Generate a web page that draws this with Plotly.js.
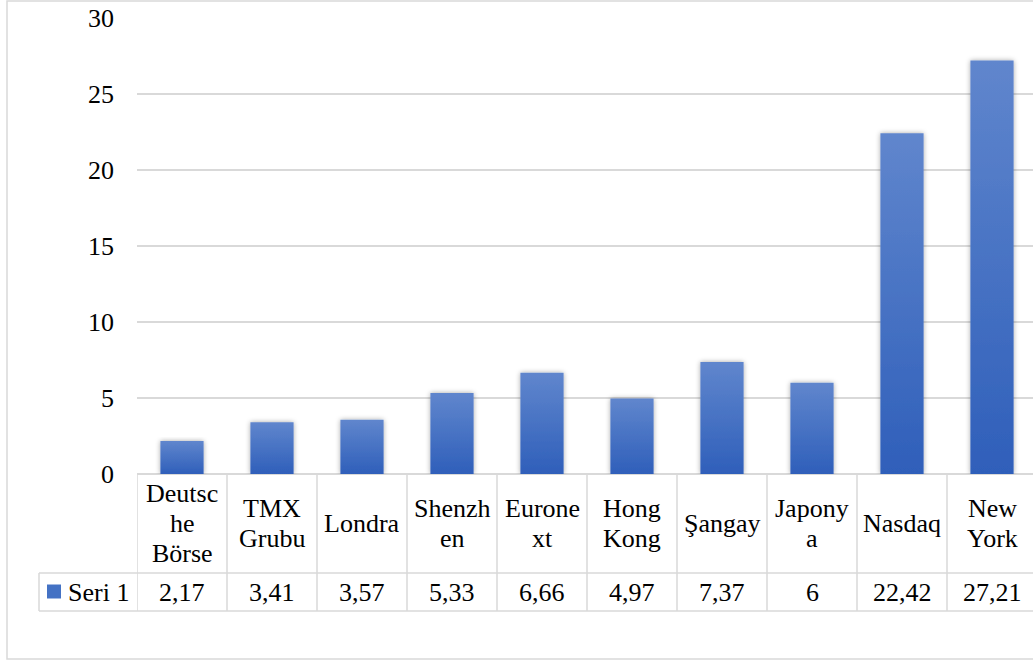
<!DOCTYPE html>
<html>
<head>
<meta charset="utf-8">
<script src="https://cdn.plot.ly/plotly-3.0.1.min.js"></script>
<style>
html,body{margin:0;padding:0;background:#fff;}
#chart{width:1033px;height:661px;}
</style>
</head>
<body>
<div id="chart"></div>
<script>
const categories = ['Deutsche Börse', 'TMX Grubu', 'Londra', 'Shenzhen', 'Euronext', 'Hong Kong', 'Şangay', 'Japonya', 'Nasdaq', 'New York'];
const tickLabels = ['Deutsc<br>he<br>Börse', 'TMX<br>Grubu', 'Londra', 'Shenzh<br>en', 'Eurone<br>xt', 'Hong<br>Kong', 'Şangay', 'Japony<br>a', 'Nasdaq', 'New<br>York'];
const values = [2.17, 3.41, 3.57, 5.33, 6.66, 4.97, 7.37, 6, 22.42, 27.21];
const seriesName = 'Seri 1';

const W = 1033, H = 661;
const mL = 137, mR = 0, mT = 18, mB = 187;
const plotW = W - mL - mR, plotH = H - mT - mB;
const colW = 90;
const px2x = px => (px - mL) / plotW;
const py2y = py => (H - mB - py) / plotH;

const FONT = 'Liberation Serif';
const FS = 26;
const LINE_H = 30;
const lineC = '#d9d9d9';
const barC = '#4472c4';

const headerTop = 474, rowMid = 573, rowBot = 611;

const shapes = [];
const annotations = [];

for (let k = 0; k <= categories.length; k++) {
  shapes.push({type:'line', xref:'x', yref:'paper', x0:k-0.5, x1:k-0.5,
    y0:py2y(headerTop), y1:py2y(rowBot), line:{color:lineC, width:1.5}});
}
shapes.push({type:'line', xref:'paper', yref:'paper', x0:px2x(39), x1:px2x(39),
  y0:py2y(rowMid), y1:py2y(rowBot), line:{color:lineC, width:1.5}});
shapes.push({type:'line', xref:'paper', yref:'paper', x0:px2x(39), x1:px2x(1040),
  y0:py2y(rowMid), y1:py2y(rowMid), line:{color:lineC, width:1.5}});
shapes.push({type:'line', xref:'paper', yref:'paper', x0:px2x(39), x1:px2x(1040),
  y0:py2y(rowBot), y1:py2y(rowBot), line:{color:lineC, width:1.5}});
shapes.push({type:'rect', xref:'paper', yref:'paper', x0:px2x(7), x1:px2x(1045),
  y0:py2y(1), y1:py2y(659), line:{color:lineC, width:1.5}, fillcolor:'rgba(0,0,0,0)', layer:'below'});
shapes.push({type:'rect', xref:'paper', yref:'paper', x0:px2x(47), x1:px2x(61),
  y0:py2y(584.5), y1:py2y(598.5), line:{width:0}, fillcolor:barC});

annotations.push({xref:'paper', yref:'paper', x:px2x(66), y:py2y(592), text:seriesName,
  showarrow:false, xanchor:'left', yanchor:'middle', font:{family:FONT, size:FS, color:'#000'}});

categories.forEach((c, i) => {
  const lines = tickLabels[i].split('<br>');
  const mid = (headerTop + rowMid) / 2;
  lines.forEach((ln, j) => {
    const cy = mid + (j - (lines.length - 1) / 2) * LINE_H;
    annotations.push({xref:'x', yref:'paper', x:c, y:py2y(cy), text:ln,
      showarrow:false, xanchor:'center', yanchor:'middle', align:'center',
      font:{family:FONT, size:FS, color:'#000'}});
  });
  annotations.push({xref:'x', yref:'paper', x:c, y:py2y((rowMid+rowBot)/2),
    text:String(values[i]).replace('.', ','),
    showarrow:false, xanchor:'center', yanchor:'middle',
    font:{family:FONT, size:FS, color:'#000'}});
});

const trace = {
  type:'bar', x:categories, y:values, name:seriesName,
  width:0.48, marker:{color:barC, line:{width:0}}, hoverinfo:'skip'
};

const layout = {
  width:W, height:H,
  margin:{l:mL, r:mR, t:mT, b:mB, pad:0},
  paper_bgcolor:'#fff', plot_bgcolor:'#fff',
  showlegend:false,
  font:{family:FONT},
  xaxis:{type:'category', range:[-0.5, -0.5 + plotW/colW], showticklabels:false,
    showgrid:false, zeroline:false, showline:false, ticks:''},
  yaxis:{range:[0,30], dtick:5, tick0:0, showgrid:true, gridcolor:lineC, gridwidth:1.5,
    zeroline:true, zerolinecolor:lineC, zerolinewidth:1.5, showline:false, ticks:'',
    ticklabelstandoff:22, tickfont:{family:FONT, size:FS, color:'#000'}},
  shapes:shapes, annotations:annotations
};

Plotly.newPlot('chart', [trace], layout, {displayModeBar:false, staticPlot:true}).then(gd => {
  const svg = gd.querySelector('svg.main-svg');
  const ns = 'http://www.w3.org/2000/svg';
  let defs = svg.querySelector('defs');
  if (!defs) { defs = document.createElementNS(ns, 'defs'); svg.insertBefore(defs, svg.firstChild); }
  const grad = document.createElementNS(ns, 'linearGradient');
  grad.setAttribute('id', 'barGrad');
  grad.setAttribute('x1', '0'); grad.setAttribute('y1', '0');
  grad.setAttribute('x2', '0'); grad.setAttribute('y2', '1');
  [['0', '#6086cd'], ['1', '#2f5fba']].forEach(([o, c]) => {
    const s = document.createElementNS(ns, 'stop');
    s.setAttribute('offset', o); s.setAttribute('stop-color', c);
    grad.appendChild(s);
  });
  defs.appendChild(grad);
  const filt = document.createElementNS(ns, 'filter');
  filt.setAttribute('id', 'barShadow');
  filt.setAttribute('x', '-30%'); filt.setAttribute('y', '-10%');
  filt.setAttribute('width', '160%'); filt.setAttribute('height', '120%');
  const ds = document.createElementNS(ns, 'feDropShadow');
  ds.setAttribute('dx', '0'); ds.setAttribute('dy', '0');
  ds.setAttribute('stdDeviation', '2.5');
  ds.setAttribute('flood-color', '#000'); ds.setAttribute('flood-opacity', '0.35');
  filt.appendChild(ds);
  defs.appendChild(filt);
  gd.querySelectorAll('.trace.bars .point path').forEach(p => {
    p.style.fill = 'url(#barGrad)';
    p.setAttribute('filter', 'url(#barShadow)');
  });
});
</script>
</body>
</html>
